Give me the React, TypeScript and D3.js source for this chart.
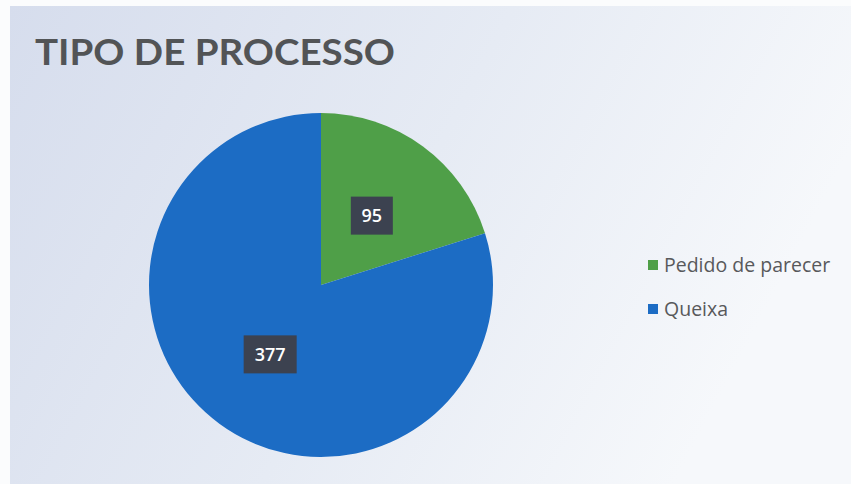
import React from "react";
import * as d3 from "d3";

const categories = ["Pedido de parecer", "Queixa"];
const values = [95, 377];
const colors = ["#4f9f48", "#1c6cc4"];
const title = "TIPO DE PROCESSO";

export default function App() {
  const W = 851, H = 484;
  const cx = 321, cy = 285, r = 172;
  const pie = d3.pie<number>().sort(null).startAngle(0).endAngle(2 * Math.PI);
  const arcs = pie(values);
  const arc = d3.arc<d3.PieArcDatum<number>>().innerRadius(0).outerRadius(r);
  const legendY = d3.scalePoint<string>().domain(categories).range([265, 309]);

  return (
    <svg width={W} height={H} style={{ position: "absolute", left: 0, top: 0 }}>
      <defs>
        <linearGradient id="bg" x1="0" y1="0" x2="1" y2="0.3">
          <stop offset="0" stopColor="#d6dded" />
          <stop offset="0.55" stopColor="#e6ebf4" />
          <stop offset="1" stopColor="#f6f8fb" />
        </linearGradient>
      </defs>
      <rect x={0} y={0} width={W} height={H} fill="#fbfcfd" />
      <rect x={10} y={6} width={W - 10} height={H - 6} fill="url(#bg)" />
      <text x={35} y={65} fontFamily="Lato, 'Open Sans', sans-serif" fontWeight={700} fontSize={37} fill="#525456" textLength={360} lengthAdjust="spacingAndGlyphs">
        {title}
      </text>
      <g transform={`translate(${cx},${cy})`}>
        {arcs.map((a, i) => (
          <path key={i} d={arc(a) || ""} fill={colors[i]} />
        ))}
        {arcs.map((a, i) => {
          const [x, y] = arc.centroid(a);
          const label = String(values[i]);
          const bw = label.length * 11 + 20;
          const bh = 38;
          return (
            <g key={"l" + i} transform={`translate(${x},${y})`}>
              <rect x={-bw / 2} y={-bh / 2} width={bw} height={bh} fill="#3c4250" />
              <text textAnchor="middle" dy="0.36em" fontFamily="'Open Sans', sans-serif" fontWeight={600} fontSize={18} fill="#ffffff">
                {label}
              </text>
            </g>
          );
        })}
      </g>
      {categories.map((c, i) => (
        <g key={c} transform={`translate(648,${legendY(c)})`}>
          <rect x={0} y={-5} width={10} height={10} fill={colors[i]} />
          <text x={16} dy="0.35em" fontFamily="'Open Sans', sans-serif" fontSize={19.5} fill="#58595b">
            {c}
          </text>
        </g>
      ))}
    </svg>
  );
}
